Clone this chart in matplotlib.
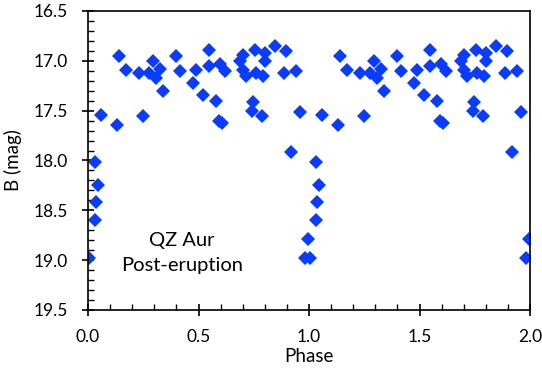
import matplotlib
matplotlib.use("Agg")
import matplotlib.pyplot as plt
from matplotlib.ticker import MultipleLocator, FormatStrFormatter
import numpy as np

# Phase (0-1) and B magnitude readings
phase = [0.003, 0.030, 0.046, 0.038, 0.032, 0.057, 0.130, 0.142, 0.172, 0.232,
         0.250, 0.277, 0.295, 0.308, 0.326, 0.338, 0.397, 0.416, 0.474, 0.489,
         0.519, 0.546, 0.549, 0.577, 0.592, 0.605, 0.597, 0.620, 0.686, 0.701,
         0.701, 0.717, 0.754, 0.762, 0.792, 0.800, 0.800, 0.845, 0.897, 0.887,
         0.943, 0.748, 0.741, 0.786, 0.959, 0.917, 0.997, 0.982]
bmag = [18.98, 18.02, 18.25, 18.42, 18.60, 17.54, 17.64, 16.95, 17.09, 17.12,
        17.55, 17.12, 17.00, 17.17, 17.08, 17.30, 16.95, 17.10, 17.22, 17.09,
        17.34, 17.05, 16.89, 17.40, 17.60, 17.62, 17.03, 17.10, 17.00, 16.94,
        17.09, 17.15, 16.89, 17.12, 17.15, 16.92, 17.00, 16.85, 16.90, 17.12,
        17.10, 17.41, 17.50, 17.55, 17.51, 17.91, 18.79, 18.98]

xticks = [0.0, 0.5, 1.0, 1.5, 2.0]
yticks = [16.5, 17.0, 17.5, 18.0, 18.5, 19.0, 19.5]

fig = plt.figure(figsize=(5.42, 3.69), dpi=100)
ax = fig.add_axes([88/542, 1-310/369, (530-88)/542, (310-11)/369])

p = np.array(phase)
m = np.array(bmag)
xs = np.concatenate([p, p + 1])
ys = np.concatenate([m, m])
ax.plot(xs, ys, linestyle='none', marker='D', ms=7.2, color='#0a3cff',
        markeredgewidth=0, clip_on=True)

ax.set_xlim(0, 2)
ax.set_ylim(19.5, 16.5)
ax.set_xticks(xticks)
ax.set_yticks(yticks)
ax.xaxis.set_minor_locator(MultipleLocator(0.1))
ax.yaxis.set_minor_locator(MultipleLocator(0.1))
ax.xaxis.set_major_formatter(FormatStrFormatter('%.1f'))
ax.yaxis.set_major_formatter(FormatStrFormatter('%.1f'))

font = 'Lato'
ax.tick_params(which='major', direction='inout', length=9, width=1.2,
               labelsize=12.5, top=False, right=False)
ax.tick_params(axis='x', which='major', pad=9)
ax.tick_params(axis='y', which='major', pad=10)
ax.tick_params(which='minor', direction='in', length=4, width=1,
               top=False, right=False)
for lab in ax.get_xticklabels() + ax.get_yticklabels():
    lab.set_fontfamily(font)
for s in ax.spines.values():
    s.set_linewidth(1.2)

ax.set_xlabel('Phase', fontsize=13.5, family=font, labelpad=2)
ax.set_ylabel('B (mag)', fontsize=13.5, family=font, labelpad=8)

ax.text(0.425, 18.93, 'QZ Aur\nPost-eruption', ha='center', va='center',
        fontsize=14.5, family=font, linespacing=1.6)

fig.savefig('out.png', dpi=100)
